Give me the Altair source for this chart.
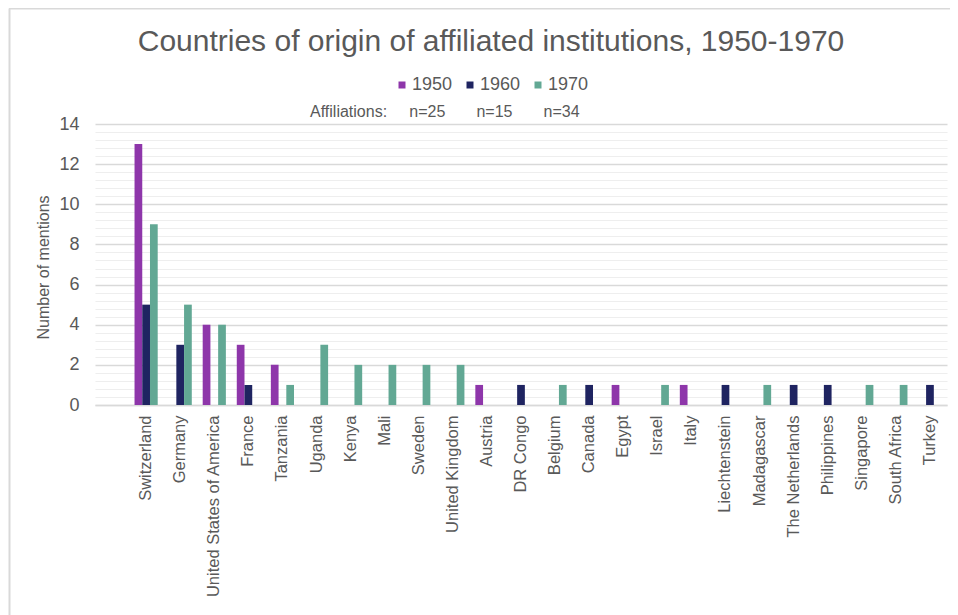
import altair as alt
import pandas as pd
import numpy as np

countries = ["Switzerland", "Germany", "United States of America", "France", "Tanzania",
             "Uganda", "Kenya", "Mali", "Sweden", "United Kingdom", "Austria", "DR Congo",
             "Belgium", "Canada", "Egypt", "Israel", "Italy", "Liechtenstein", "Madagascar",
             "The Netherlands", "Philippines", "Singapore", "South Africa", "Turkey"]
v1950 = [13, 0, 4, 3, 2, 0, 0, 0, 0, 0, 1, 0, 0, 0, 1, 0, 1, 0, 0, 0, 0, 0, 0, 0]
v1960 = [5, 3, 0, 1, 0, 0, 0, 0, 0, 0, 0, 1, 0, 1, 0, 0, 0, 1, 0, 1, 1, 0, 0, 1]
v1970 = [9, 5, 4, 0, 1, 3, 2, 2, 2, 2, 0, 0, 1, 0, 0, 1, 0, 0, 1, 0, 0, 1, 1, 0]
years = ["1950", "1960", "1970"]
n_affil = [25, 15, 34]
colors = ["#8E36AA", "#1F2461", "#62A894"]
title_text = "Countries of origin of affiliated institutions, 1950-1970"

rows = []
for yr, vals in zip(years, [v1950, v1960, v1970]):
    for c, v in zip(countries, vals):
        rows.append({"country": c, "year": yr, "value": v})
df = pd.DataFrame(rows)

FONT = "Liberation Sans"
TXT = "#595959"
domain_x = [" "] + countries

xenc = alt.X("country:N", scale=alt.Scale(domain=domain_x, paddingInner=0.32, paddingOuter=0.16),
             sort=domain_x,
             axis=alt.Axis(title=None, labelAngle=-90, labelFontSize=16.5, labelColor=TXT,
                           labelFont=FONT, ticks=False, domainColor="#d9d9d9", domainWidth=1.5,
                           labelPadding=10, labelLimit=0, grid=False))
yscale = alt.Scale(domain=[0, 14], nice=False)

minor_vals = [round(v, 1) for v in np.arange(0.4, 14.01, 0.4) if abs(v / 2 - round(v / 2)) > 1e-6]

minor = alt.Chart(df).mark_bar(opacity=0).encode(
    x=xenc,
    y=alt.Y("value:Q", scale=yscale,
            axis=alt.Axis(values=minor_vals, labels=False, ticks=False, domain=False,
                          title=None, grid=True, gridColor="#eeeeee", gridWidth=1.2,
                          orient="right")),
)

bars = alt.Chart(df).transform_filter("datum.value > 0").mark_bar().encode(
    x=xenc,
    xOffset=alt.XOffset("year:N", sort=years, scale=alt.Scale(paddingInner=0, paddingOuter=0)),
    y=alt.Y("value:Q", scale=yscale,
            axis=alt.Axis(values=list(range(0, 15, 2)), title="Number of mentions",
                          titleFontSize=16, titleFont=FONT, titleColor=TXT, titleFontWeight="normal",
                          titleAngle=-90, titleX=-52, titleY=143, titleBaseline="middle",
                          titleAlign="center",
                          labelFontSize=18, labelFont=FONT, labelColor=TXT, labelPadding=16,
                          ticks=False, domain=False, grid=True, gridColor="#d9d9d9",
                          gridWidth=1.5, orient="left")),
    color=alt.Color("year:N", sort=years, scale=alt.Scale(domain=years, range=colors),
                    legend=alt.Legend(title=None, orient="none", legendX=298, legendY=-48,
                                      direction="horizontal", symbolType="square",
                                      symbolSize=49, symbolStrokeWidth=0, labelFontSize=18,
                                      labelFont=FONT, labelColor=TXT, labelOffset=1,
                                      columnPadding=8)),
)

title = alt.Chart(pd.DataFrame({"t": [title_text]})).mark_text(
    align="center", baseline="middle", fontSize=30, font=FONT, color=TXT
).encode(text="t:N", x=alt.value(396), y=alt.value(-82))

affil_text = "Affiliations:" + "\u00a0" * 5 + ("\u00a0" * 7).join(f"n={n}" for n in n_affil)
affil = alt.Chart(pd.DataFrame({"t": [affil_text]})).mark_text(
    align="left", baseline="middle", fontSize=16, font=FONT, color=TXT
).encode(text="t:N", x=alt.value(215), y=alt.value(-12))

frame_left = alt.Chart(pd.DataFrame({"a": [0]})).mark_rule(color="#d9d9d9", strokeWidth=2).encode(
    x=alt.value(-85.5), y=alt.value(-115.5), y2=alt.value(500))
frame_top = alt.Chart(pd.DataFrame({"a": [0]})).mark_rule(color="#d9d9d9", strokeWidth=2).encode(
    x=alt.value(-86), x2=alt.value(860), y=alt.value(-115.5))

chart = alt.layer(minor, bars, title, affil, frame_left, frame_top).resolve_axis(
    y="independent").resolve_scale(y="shared").properties(
    width=852, height=281,
    autosize=alt.AutoSizeParams(type="none"),
    padding={"left": 87, "top": 116, "right": 3, "bottom": 210},
).configure_view(stroke=None)

chart.save("out.html", embed_options={"renderer": "svg", "actions": False})
